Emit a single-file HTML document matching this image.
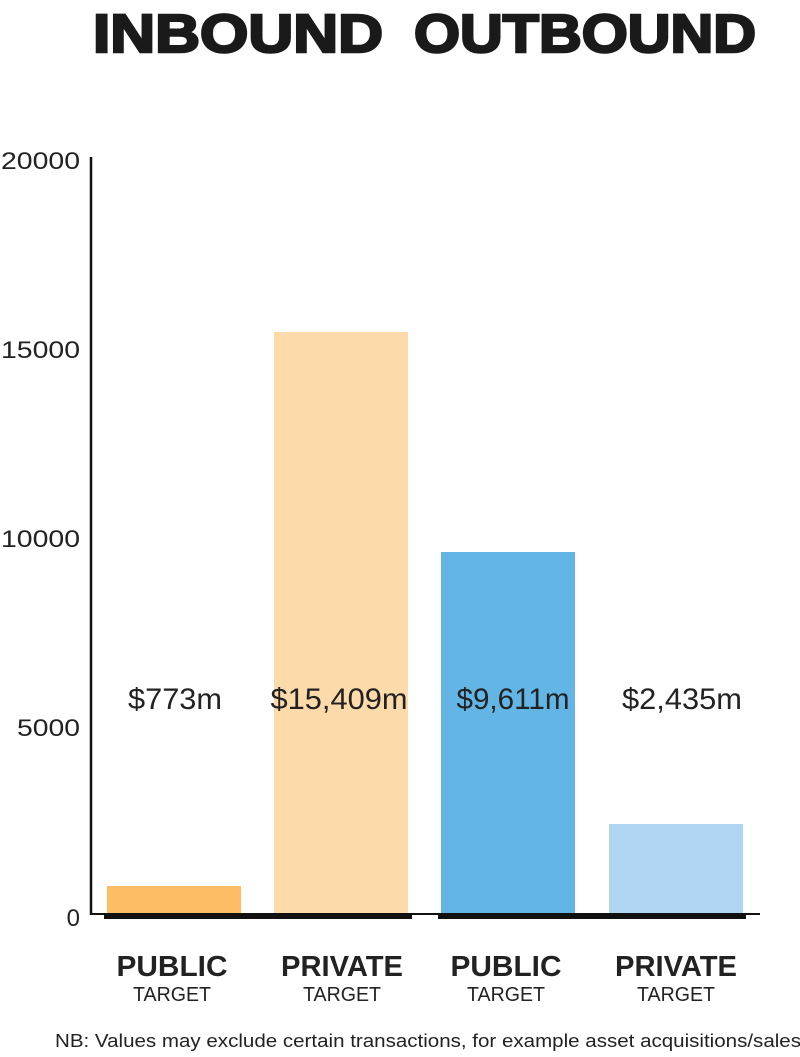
<!DOCTYPE html>
<html><head><meta charset="utf-8"><style>
body{margin:0;background:#fff;}
svg{display:block;font-family:"Liberation Sans",sans-serif;}
</style></head><body>
<svg width="800" height="1057" viewBox="0 0 800 1057">
<text x="238" y="52" font-size="54" font-weight="900" text-anchor="middle" fill="#1a1a1a" stroke="#1a1a1a" stroke-width="2.5" textLength="290" lengthAdjust="spacingAndGlyphs">INBOUND</text>
<text x="585" y="52" font-size="54" font-weight="900" text-anchor="middle" fill="#1a1a1a" stroke="#1a1a1a" stroke-width="2.5" textLength="342" lengthAdjust="spacingAndGlyphs">OUTBOUND</text>
<g font-size="24" fill="#222" text-anchor="end">
<text x="80" y="169" textLength="79" lengthAdjust="spacingAndGlyphs">20000</text>
<text x="80" y="358" textLength="79" lengthAdjust="spacingAndGlyphs">15000</text>
<text x="80" y="547" textLength="79" lengthAdjust="spacingAndGlyphs">10000</text>
<text x="80" y="736" textLength="63" lengthAdjust="spacingAndGlyphs">5000</text>
<text x="80" y="926">0</text>
</g>
<line x1="91" y1="157" x2="91" y2="915" stroke="#111" stroke-width="2.5"/>
<line x1="90" y1="914" x2="760" y2="914" stroke="#111" stroke-width="2"/>
<rect x="107" y="886" width="134" height="28" fill="#fcbd65"/>
<rect x="274" y="332" width="134" height="582" fill="#fddaa9"/>
<rect x="441" y="552" width="134" height="362" fill="#63b5e5"/>
<rect x="609" y="824" width="134" height="90" fill="#b0d5f0"/>
<rect x="104" y="913" width="308" height="6" fill="#111"/>
<rect x="438" y="913" width="308" height="6" fill="#111"/>
<g font-size="30" fill="#222" text-anchor="middle">
<text x="175" y="709" textLength="94" lengthAdjust="spacingAndGlyphs">$773m</text>
<text x="339" y="709" textLength="137" lengthAdjust="spacingAndGlyphs">$15,409m</text>
<text x="513" y="709" textLength="113" lengthAdjust="spacingAndGlyphs">$9,611m</text>
<text x="682" y="709" textLength="120" lengthAdjust="spacingAndGlyphs">$2,435m</text>
</g>
<g font-size="29" font-weight="bold" fill="#222" text-anchor="middle">
<text x="172" y="976" textLength="111" lengthAdjust="spacingAndGlyphs">PUBLIC</text>
<text x="342" y="976" textLength="122" lengthAdjust="spacingAndGlyphs">PRIVATE</text>
<text x="506" y="976" textLength="111" lengthAdjust="spacingAndGlyphs">PUBLIC</text>
<text x="676" y="976" textLength="122" lengthAdjust="spacingAndGlyphs">PRIVATE</text>
</g>
<g font-size="20" fill="#222" text-anchor="middle">
<text x="172" y="1001" textLength="78" lengthAdjust="spacingAndGlyphs">TARGET</text>
<text x="342" y="1001" textLength="78" lengthAdjust="spacingAndGlyphs">TARGET</text>
<text x="506" y="1001" textLength="78" lengthAdjust="spacingAndGlyphs">TARGET</text>
<text x="676" y="1001" textLength="78" lengthAdjust="spacingAndGlyphs">TARGET</text>
</g>
<text x="428" y="1047" font-size="18" fill="#222" text-anchor="middle" textLength="746" lengthAdjust="spacingAndGlyphs">NB: Values may exclude certain transactions, for example asset acquisitions/sales</text>
</svg>
</body></html>
